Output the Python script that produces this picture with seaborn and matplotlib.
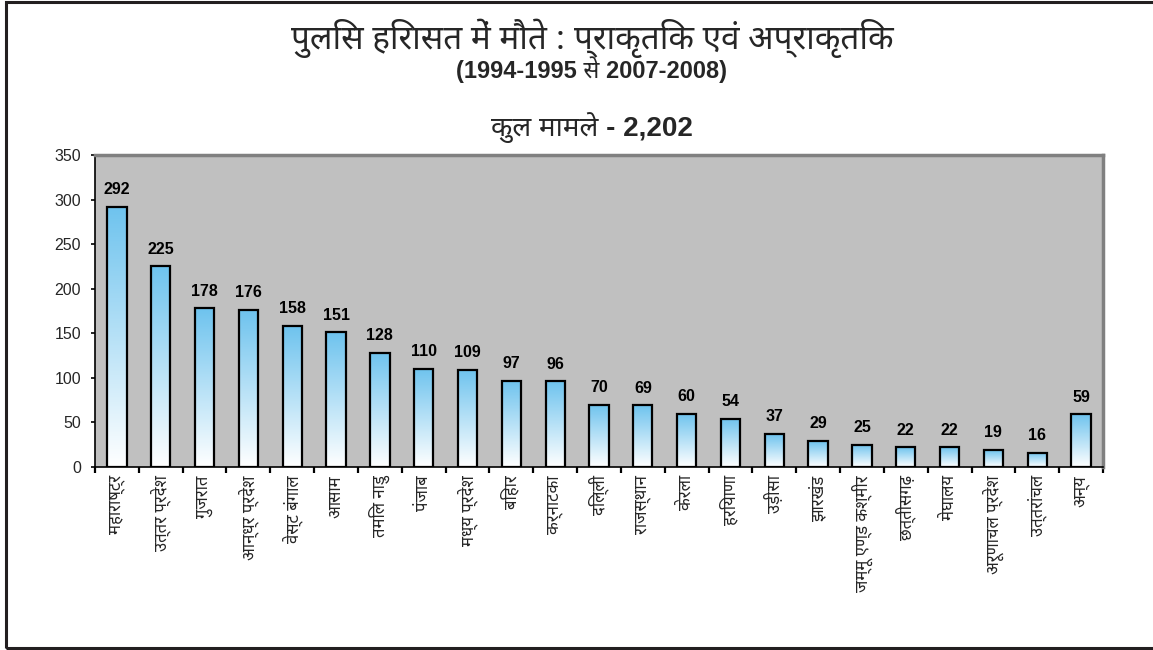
import numpy as np
import pandas as pd
import matplotlib
matplotlib.use("Agg")
import matplotlib.pyplot as plt
from matplotlib import font_manager
from matplotlib.ft2font import FT2Font
from matplotlib.patches import Rectangle
from matplotlib.colors import LinearSegmentedColormap
import seaborn as sns

# Chart data
states = [
    "महाराष्ट्र", "उत्तर प्रदेश", "गुजरात", "आन्ध्र प्रदेश", "वेस्ट बंगाल",
    "आसाम", "तमिल नाडु", "पंजाब", "मध्य प्रदेश", "बिहार", "कर्नाटका",
    "दिल्ली", "राजस्थान", "केरला", "हरियाणा", "उड़ीसा", "झारखंड",
    "जम्मू एण्ड कश्मीर", "छत्तीसगढ़", "मेघालय", "अरूणाचल प्रदेश",
    "उत्तरांचल", "अन्य",
]
deaths = [292, 225, 178, 176, 158, 151, 128, 110, 109, 97, 96,
          70, 69, 60, 54, 37, 29, 25, 22, 22, 19, 16, 59]
y_ticks = [0, 50, 100, 150, 200, 250, 300, 350]

title = "पुलिस हिरासत में मौते : प्राकृतिक एवं अप्राकृतिक"
subtitle = "(1994-1995 से 2007-2008)"
total_text = "कुल मामले - 2,202"


def find_devanagari_family():
    preferred = ["Noto Sans Devanagari", "Lohit Devanagari", "Mukta",
                 "Hind", "Gargi", "Kalimati", "FreeSans", "Mangal"]
    found = {}
    for f in font_manager.fontManager.ttflist:
        try:
            cmap = FT2Font(f.fname).get_charmap()
        except Exception:
            continue
        if 0x0915 in cmap and 0x093F in cmap:
            found.setdefault(f.name, f.fname)
    for name in preferred:
        if name in found:
            return name
    return next(iter(found), "DejaVu Sans")


sns.set_theme(style="white")
deva = find_devanagari_family()
plt.rcParams["font.family"] = ["Liberation Sans", deva, "DejaVu Sans"]

df = pd.DataFrame({"state": states, "deaths": deaths})

fig = plt.figure(figsize=(11.53, 6.5), dpi=100)
ax = fig.add_axes([95 / 1153, 1 - 467 / 650, (1103 - 95) / 1153, (467 - 155) / 650])

sns.barplot(data=df, x="state", y="deaths", ax=ax, color="#6EC3EE",
            width=0.44, edgecolor="black", linewidth=1.6, saturation=1)

ax.set_facecolor("#C0C0C0")

# White-to-blue vertical gradient inside each bar
grad_cmap = LinearSegmentedColormap.from_list("barfill", ["#FFFFFF", "#6EC3EE"])
gradient = np.linspace(0, 1, 256).reshape(-1, 1)
for patch in ax.patches:
    x0, y0 = patch.get_x(), patch.get_y()
    w, h = patch.get_width(), patch.get_height()
    im = ax.imshow(gradient, cmap=grad_cmap, origin="lower", aspect="auto",
                   extent=(x0, x0 + w, y0, y0 + h), zorder=patch.get_zorder() - 0.1)
    im.set_clip_path(patch)
    patch.set_facecolor("none")
ax.set_xlim(-0.5, len(states) - 0.5)
ax.set_ylim(0, 350)

# Value labels above bars
for i, v in enumerate(deaths):
    ax.annotate(str(v), (i, v), xytext=(0, 7), textcoords="offset points",
                ha="center", va="bottom", fontsize=11.5, fontweight="bold",
                color="black")

# Axes styling
for side in ["top", "right"]:
    ax.spines[side].set_color("#808080")
    ax.spines[side].set_linewidth(2.5)
for side in ["left", "bottom"]:
    ax.spines[side].set_color("black")
    ax.spines[side].set_linewidth(1.2)

ax.set_yticks(y_ticks)
ax.set_yticklabels([str(t) for t in y_ticks], fontsize=11.5)
ax.tick_params(axis="y", direction="out", length=3, width=1.2, color="black",
               pad=7, left=True)

ax.set_xticks(range(len(states)))
ax.set_xticklabels(states, rotation=90, fontsize=12, family=[deva, "DejaVu Sans"],
                   va="top", ha="center")
ax.tick_params(axis="x", which="major", length=0, pad=6)
ax.set_xticks(np.arange(-0.5, len(states), 1.0), minor=True)
ax.tick_params(axis="x", which="minor", direction="out", length=4, width=1.6,
               color="black", bottom=True)
ax.set_xlabel("")
ax.set_ylabel("")

# Titles
cx = 592 / 1153
fig.text(cx, 1 - 38 / 650, title, ha="center", va="center", fontsize=24,
         family=[deva, "DejaVu Sans"])
fig.text(cx, 1 - 70 / 650, subtitle, ha="center", va="center", fontsize=17,
         fontweight="bold")
fig.text(cx, 1 - 128 / 650, total_text, ha="center", va="center", fontsize=20,
         fontweight="bold")

# Frame around the whole figure
fig.patches.append(Rectangle((6 / 1153, 2.5 / 650), 1.2, 1 - 4 / 650,
                             transform=fig.transFigure, fill=False,
                             edgecolor="#231F20", linewidth=2.2))

fig.savefig("out.png", dpi=100)
